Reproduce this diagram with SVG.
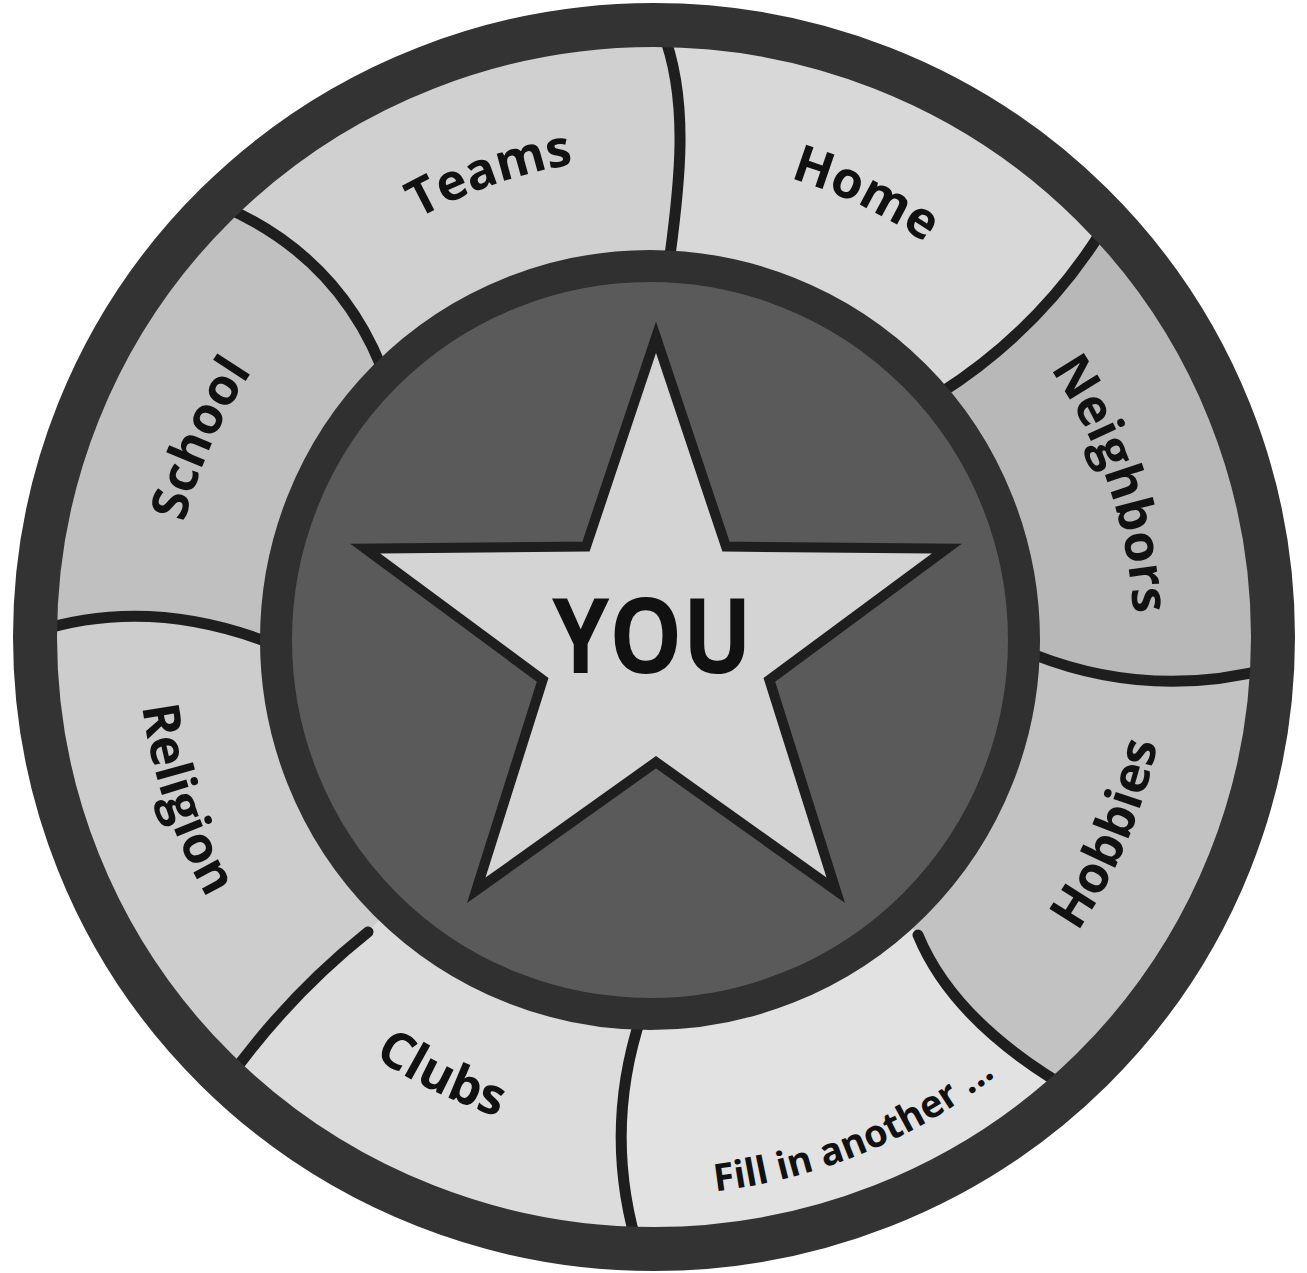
<svg xmlns="http://www.w3.org/2000/svg" width="1307" height="1273" viewBox="0 0 1307 1273">
<style>
.lbl{font-family:"Open Sans","DejaVu Sans",sans-serif;font-weight:700;font-size:51px;fill:#111;}
.small{font-size:38px;}
.div{fill:none;stroke:#1e1e1e;stroke-width:11;stroke-linecap:round;}
</style>
<defs>
<clipPath id="disc"><ellipse cx="654" cy="637" rx="630" ry="623"/></clipPath>
<path id="pTeams" d="M 178.5 549.7 A 482 482 0 0 1 966.9 275.1"/>
<path id="pHome" d="M 379.7 242.3 A 482 482 0 0 1 1132.6 603.0"/>
<path id="pNeigh" d="M 746.4 167.4 A 482 482 0 0 1 1014.1 958.1"/>
<path id="pSchool" d="M 262.1 923.3 A 482 482 0 0 1 601.6 160.6"/>
<path id="pHobbies" d="M 714.9 1152.1 A 516 516 0 0 0 1064.1 329.5"/>
<path id="pFill" d="M 313.4 1079.7 A 555 555 0 0 0 1202.1 713.4"/>
<path id="pClubs" d="M 152.4 676.7 A 501 501 0 0 0 933.6 1054.4"/>
<path id="pReligion" d="M 265.3 301.4 A 514 514 0 0 0 552.2 1144.2"/>
</defs>
<rect width="1307" height="1273" fill="#ffffff"/>
<g clip-path="url(#disc)">
<g id="home">
<path d="M 652 640 L 668 270 C 680 185, 690 100, 662 30 L 662 -260 L 1317 34 L 1103 229 Q 1040 330 939 394 Z" fill="#d8d8d8"/>
<text class="lbl"><textPath href="#pHome" startOffset="50%" text-anchor="middle">Home</textPath></text>
</g>
<g id="neighbors">
<path d="M 652 640 L 939 394 Q 1040 330 1103 229 L 1317 34 L 1551 681 L 1272 668 Q 1150 700 1035 655 Z" fill="#b8b8b8"/>
<text class="lbl"><textPath href="#pNeigh" startOffset="50%" text-anchor="middle">Neighbors</textPath></text>
</g>
<g id="hobbies">
<path d="M 652 640 L 1035 655 Q 1150 700 1272 668 L 1551 681 L 1268 1295 L 1080 1095 Q 955 1025 918 935 Z" fill="#c2c2c2"/>
<text class="lbl"><textPath href="#pHobbies" startOffset="50%" text-anchor="middle">Hobbies</textPath></text>
</g>
<g id="fill-in">
<path d="M 652 640 L 918 935 Q 955 1025 1080 1095 L 1268 1295 L 634 1540 L 640 1255 Q 600 1130 645 1005 Z" fill="#e2e2e2"/>
<text class="lbl small"><textPath href="#pFill" startOffset="50%" text-anchor="middle">Fill in another ...</textPath></text>
</g>
<g id="clubs">
<path d="M 652 640 L 645 1005 Q 600 1130 640 1255 L 634 1540 L 30 1290 L 222 1088 Q 285 998 368 932 Z" fill="#dcdcdc"/>
<text class="lbl"><textPath href="#pClubs" startOffset="50%" text-anchor="middle">Clubs</textPath></text>
</g>
<g id="religion">
<path d="M 652 640 L 368 932 Q 285 998 222 1088 L 30 1290 L -248 628 L 35 632 Q 150 595 275 645 Z" fill="#cdcdcd"/>
<text class="lbl"><textPath href="#pReligion" startOffset="50%" text-anchor="middle">Religion</textPath></text>
</g>
<g id="school">
<path d="M 652 640 L 275 645 Q 150 595 35 632 L -248 628 L 18 1 L 220 205 Q 345 258 388 385 Z" fill="#c0c0c0"/>
<text class="lbl"><textPath href="#pSchool" startOffset="50%" text-anchor="middle">School</textPath></text>
</g>
<g id="teams">
<path d="M 652 640 L 388 385 Q 345 258 220 205 L 18 1 L 662 -260 L 662 30 C 690 100, 680 185, 668 270 Z" fill="#d0d0d0"/>
<text class="lbl"><textPath href="#pTeams" startOffset="50%" text-anchor="middle">Teams</textPath></text>
</g>
</g>
<g id="connectors">
<path class="div" d="M 662 30 C 690 100, 680 185, 668 270"/>
<path class="div" d="M 1103 229 Q 1040 330 939 394"/>
<path class="div" d="M 1272 668 Q 1150 700 1035 655"/>
<path class="div" d="M 1080 1095 Q 955 1025 918 935"/>
<path class="div" d="M 640 1255 Q 600 1130 645 1005"/>
<path class="div" d="M 222 1088 Q 285 998 368 932"/>
<path class="div" d="M 35 632 Q 150 595 275 645"/>
<path class="div" d="M 220 205 Q 345 258 388 385"/>
</g>
<g id="outer-rim">
<ellipse cx="654" cy="637" rx="619" ry="612" fill="none" stroke="#333333" stroke-width="44"/>
</g>
<g id="you">
<circle cx="650" cy="640" r="374" fill="#5a5a5a" stroke="#303030" stroke-width="32"/>
<polygon points="656,353 722.4,551.6 931.8,553.4 763.5,677.9 826.5,877.6 656,756 485.5,877.6 548.5,677.9 380.2,553.4 589.6,551.6" fill="#d4d4d4" stroke="#1e1e1e" stroke-width="20" stroke-linejoin="miter" paint-order="stroke"/>
<text x="652" y="673" text-anchor="middle" textLength="200" lengthAdjust="spacingAndGlyphs" font-family="Open Sans, DejaVu Sans, sans-serif" font-weight="700" font-size="104" fill="#111">YOU</text>
</g>
</svg>
